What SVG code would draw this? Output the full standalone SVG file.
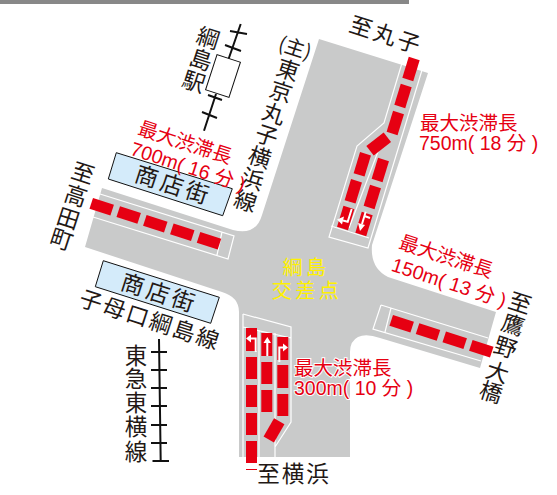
<svg xmlns="http://www.w3.org/2000/svg" width="557" height="495" viewBox="0 0 557 495">
<style>
text{font-family:"Noto Sans CJK JP","Liberation Sans",sans-serif}
.k{font-size:22.500px;fill:#231815;text-anchor:middle}
.s{font-size:23px;fill:#231815;text-anchor:middle;letter-spacing:3.500px}
.r{font-family:"Liberation Sans","Noto Sans CJK JP",sans-serif;font-size:19.500px;fill:#e60012}
.y{font-size:20px;fill:#fff100;text-anchor:middle;letter-spacing:3.500px}
.l{fill:none;stroke:#fff;stroke-width:1.2}
.c{fill:#e60012}
.a{fill:none;stroke:#fff;stroke-width:2}
.w{fill:#fff}
.t{fill:none;stroke:#111;stroke-width:2}
.b{fill:#d4ebfa;stroke:#111;stroke-width:1}
</style>
<rect width="409" height="4" fill="#888"/>
<path id="road" fill="#c9caca" d="M319 39L428 73L372 245Q370 268 388 277L496 312L480 368L380 338Q366 333 358 337Q350 341 350 352L350 457L239 457L239 312Q239 297 222 292L85 247L102 188L233 230Q256 236 262 215Z"/>
<g id="lanes">
<path class="l" d="M402 63L384 123L357 146L329 237L368 248L422 70M382 141L349 228M331 226L369 238"/>
<path class="l" d="M381 305L373 329L481 361M381 305L488 338M391 308L385 332"/>
<path class="l" d="M243 314V457M243 314L291 327V422L275 447M259 330V457M275 333V457M243 327L291 338"/>
<path class="l" d="M100 194L234 236L228 259L93 217M222 232L217 255"/>
</g>
<g id="queues" class="c">
<rect x="-5.7" y="-11" width="11.4" height="22" transform="translate(411 69) rotate(17)"/>
<rect x="-5.7" y="-11" width="11.4" height="22" transform="translate(403 96) rotate(17)"/>
<rect x="-5.7" y="-11" width="11.4" height="22" transform="translate(395.3 123) rotate(17)"/>
<rect x="-6" y="-11" width="12" height="22" transform="translate(378.7 144) rotate(52)"/>
<rect x="-5.7" y="-11" width="11.4" height="22" transform="translate(362.3 164.3) rotate(17)"/>
<rect x="-5.7" y="-11" width="11.4" height="22" transform="translate(353.3 191.3) rotate(17)"/>
<rect x="-5.7" y="-11" width="11.4" height="22" transform="translate(380.3 170) rotate(17)"/>
<rect x="-5.7" y="-11" width="11.4" height="22" transform="translate(372.3 197) rotate(17)"/>
<rect x="-5.7" y="-11" width="11.4" height="22" transform="translate(345.7 218) rotate(17)"/>
<rect x="-5.7" y="-11" width="11.4" height="22" transform="translate(364 224) rotate(17)"/>
<rect x="-11" y="-5.7" width="22" height="11.4" transform="translate(101.7 206.7) rotate(18)"/>
<rect x="-11" y="-5.7" width="22" height="11.4" transform="translate(128.7 215) rotate(18)"/>
<rect x="-11" y="-5.7" width="22" height="11.4" transform="translate(155.3 223.7) rotate(18)"/>
<rect x="-11" y="-5.7" width="22" height="11.4" transform="translate(182.3 232.3) rotate(18)"/>
<rect x="-11" y="-5.7" width="22" height="11.4" transform="translate(209 240.7) rotate(18)"/>
<rect x="-11" y="-5.7" width="22" height="11.4" transform="translate(401.7 323.7) rotate(18)"/>
<rect x="-11" y="-5.7" width="22" height="11.4" transform="translate(428 332) rotate(18)"/>
<rect x="-11" y="-5.7" width="22" height="11.4" transform="translate(454.7 340.3) rotate(18)"/>
<rect x="-11" y="-5.7" width="22" height="11.4" transform="translate(481.3 348.7) rotate(18)"/>
<rect x="246" y="328" width="11" height="23"/><rect x="246" y="357" width="11" height="22"/><rect x="246" y="385" width="11" height="22"/><rect x="246" y="413" width="11" height="22"/><rect x="246" y="441" width="11" height="22"/>
<rect x="261.3" y="333" width="11" height="23"/><rect x="261.3" y="362" width="11" height="22"/><rect x="261.3" y="390" width="11" height="22"/>
<rect x="277.3" y="337" width="11" height="23"/><rect x="277.3" y="365" width="11" height="23"/><rect x="277.3" y="394" width="11" height="22"/>
<rect x="-6" y="-10.5" width="12" height="21" transform="translate(274 430.3) rotate(30)"/>
<rect x="246" y="469" width="11" height="1"/>
</g>
<g id="arrows">
<path class="a" d="M255.7 352V338.5H250"/><path class="w" d="M251 334.5V342.5L246 338.5Z"/>
<path class="a" d="M267.3 356V342"/><path class="w" d="M263.500 343H271L267.3 337Z"/>
<path class="a" d="M279.3 362V347.5H284"/><path class="w" d="M283 343.5V351.5L288 347.5Z"/>
<path class="a" d="M351.7 209L347.7 221.7L343 220.5"/><path class="w" d="M344 216.5L342 224.5L337 219.5Z"/>
<path class="a" d="M365.7 211.7L362 224M364.5 216L370 218"/><path class="w" d="M358 223L365 225L360 231Z"/>
</g>
<g id="shop1"><path class="b" d="M116.3 152.7L232.3 188.7L222.7 215.7L108.3 179Z"/><text class="s" transform="translate(171 193) rotate(18)">商店街</text></g>
<g id="shop2"><path class="b" d="M103.3 260.7L219.3 297.3L210.700 323.3L95.3 286.7Z"/><text class="s" transform="translate(157 301) rotate(18)">商店街</text></g>
<g id="station">
<path class="t" d="M240.7 24L222 78M216 94L204 130.7M230 31L247 34M225 45L241 51M208 95L222 100M202 112L217 118"/>
<rect x="-12.3" y="-18.5" width="24.6" height="37" fill="#fff" stroke="#111" transform="translate(223 76) rotate(18)"/>
</g>
<g id="tokyu"><path class="t" d="M159 339L160.7 462M151 352H167M151 370H167M151 388H167M151 406H167M151 425H167M151 443H167M152.500 461H169"/></g>
<g id="labels">
<text class="k" transform="translate(208 38) rotate(18)" x="0 0 0" y="8 31 54">綱島駅</text>
<text class="k" letter-spacing="2.500" transform="translate(386 35) rotate(18)" y="8">至丸子</text>
<text class="k" style="font-size:20px" transform="translate(295 48) rotate(18)" y="7">(主)</text>
<text class="k" transform="translate(288 70) rotate(18)" x="0 0 0 0 0 0 0" y="8 31 54 77 100 123 146">東京丸子横浜線</text>
<text class="k" transform="translate(83 173) rotate(18)" x="0 0 0 0" y="8 32 56 78">至高田町</text>
<text class="k" transform="translate(520 303) rotate(18)" x="0 0 0 0 0" y="8 31 55 81 102">至鷹野大橋</text>
<text class="k" letter-spacing="2" transform="translate(150 320) rotate(18)" y="8">子母口綱島線</text>
<text class="k" x="136 136 136 136 136" y="364 387 411 435 460">東急東横線</text>
<text class="k" letter-spacing="2" x="294" y="482">至横浜</text>
<text class="y" x="306" y="275">綱島</text>
<text class="y" x="307" y="298">交差点</text>
<text class="r" text-anchor="middle" transform="translate(183 149) rotate(18)">最大渋滞長</text>
<text class="r" text-anchor="middle" xml:space="preserve" transform="translate(186 173) rotate(18)">700m( 16 分 )</text>
<text class="r" x="420" y="130">最大渋滞長</text>
<text class="r" xml:space="preserve" x="419" y="150">750m( 18 分 )</text>
<text class="r" text-anchor="middle" transform="translate(444 263) rotate(18)">最大渋滞長</text>
<text class="r" text-anchor="middle" xml:space="preserve" transform="translate(447 289) rotate(18)">150m( 13 分 )</text>
<text class="r" x="294" y="375" stroke="#fff" stroke-width="2" paint-order="stroke">最大渋滞長</text>
<text class="r" xml:space="preserve" x="294" y="395" stroke="#fff" stroke-width="2" paint-order="stroke">300m( 10 分 )</text>
</g>
</svg>
